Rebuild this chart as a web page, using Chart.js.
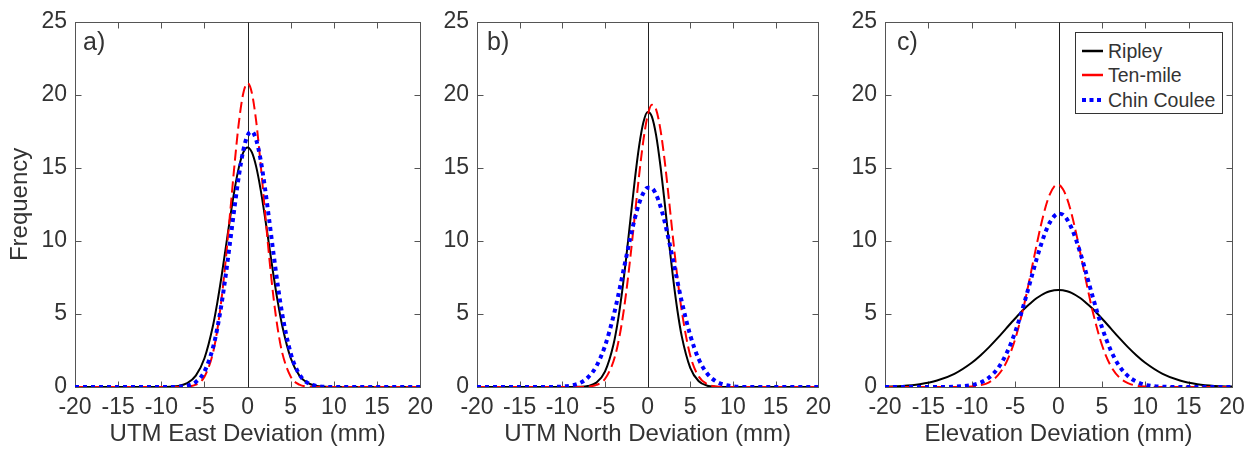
<!DOCTYPE html>
<html>
<head>
<meta charset="utf-8">
<script src="https://cdn.jsdelivr.net/npm/chart.js@4.4.1/dist/chart.umd.min.js"></script>
<style>
  body { margin: 0; background: #fff; overflow: hidden; }
  #wrap { position: relative; width: 1255px; height: 450px; font-family: 'Liberation Sans', Arial, sans-serif; color: #333; }
  canvas { position: absolute; top: 0; }
  .tag { position: absolute; font-size: 25px; line-height: 25px; }
  #legend { position: absolute; left: 1075px; top: 32px; width: 146px; height: 80px; border: 1.5px solid #333; background: #fff; }
  #legend .row { position: absolute; left: 0; height: 24px; width: 146px; font-size: 19.5px; line-height: 24px; }
  #legend svg { position: absolute; left: 5px; top: 0; }
  #legend span { position: absolute; left: 32px; top: 0; }
</style>
</head>
<body>
<div id="wrap">
  <canvas id="east" width="440" height="450" style="left:0px"></canvas>
  <canvas id="north" width="400" height="450" style="left:438px"></canvas>
  <canvas id="elev" width="410" height="450" style="left:845px"></canvas>
  <div class="tag" style="left:83px; top:29px">a)</div>
  <div class="tag" style="left:487px; top:29px">b)</div>
  <div class="tag" style="left:897px; top:29px">c)</div>
  <div id="legend">
    <div class="row" style="top:6px">
      <svg width="24" height="24"><line x1="1" y1="12" x2="22" y2="12" stroke="#000" stroke-width="2.5"/></svg>
      <span>Ripley</span>
    </div>
    <div class="row" style="top:30px">
      <svg width="24" height="24"><line x1="1" y1="12" x2="22" y2="12" stroke="#ff0000" stroke-width="2.5"/></svg>
      <span>Ten-mile</span>
    </div>
    <div class="row" style="top:55px">
      <svg width="24" height="24"><line x1="1" y1="12" x2="22" y2="12" stroke="#0000ff" stroke-width="4" stroke-dasharray="4,3.5"/></svg>
      <span>Chin Coulee</span>
    </div>
  </div>
</div>
<script>
const deviation = [-20,-18,-16,-14,-12,-10,-9,-8,-7,-6,-5,-4,-3.5,-3,-2.5,-2,-1.5,-1,-0.5,0,0.5,1,1.5,2,2.5,3,3.5,4,5,6,7,8,9,10,12,14,16,18,20];

// a) UTM East
const eastRipley  = [0,0,0,0,0,0,0.02,0.07,0.26,0.78,1.97,4.23,5.81,7.65,9.66,11.69,13.55,15.07,16.06,16.4,16.06,15.07,13.55,11.69,9.66,7.65,5.81,4.23,1.97,0.78,0.26,0.07,0.02,0,0,0,0,0,0];
const eastTenMile = [0,0,0,0,0,0,0,0,0.03,0.16,0.70,2.37,3.95,6.13,8.91,12.09,15.33,18.16,20.11,20.8,20.11,18.16,15.33,12.09,8.91,6.13,3.95,2.37,0.70,0.16,0.03,0,0,0,0,0,0,0,0];
const eastChin    = [0,0,0,0,0,0,0,0.02,0.09,0.34,1.06,2.72,4.05,5.76,7.80,10.06,12.37,14.49,16.19,17.23,17.48,16.90,15.58,13.68,11.45,9.14,6.95,5.03,2.29,0.86,0.27,0.07,0.01,0,0,0,0,0,0];

// b) UTM North
const northRipley  = [0,0,0,0,0,0,0,0.01,0.07,0.30,1.05,2.91,4.46,6.48,8.89,11.54,14.18,16.47,18.10,18.82,18.51,17.22,15.15,12.62,9.93,7.40,5.22,3.48,1.31,0.39,0.09,0.02,0,0,0,0,0,0,0];
const northTenMile = [0,0,0,0,0,0,0,0,0.03,0.14,0.55,1.76,2.88,4.45,6.51,8.99,11.73,14.47,16.86,18.57,19.32,18.99,17.64,15.49,12.84,10.07,7.45,5.21,2.15,0.71,0.19,0.04,0.01,0,0,0,0,0,0];
const northChin    = [0,0,0,0,0,0.03,0.10,0.26,0.65,1.43,2.80,4.86,6.12,7.50,8.91,10.29,11.54,12.56,13.28,13.64,13.60,13.17,12.38,11.31,10.02,8.63,7.22,5.86,3.54,1.90,0.91,0.39,0.15,0.05,0,0,0,0,0];

// c) Elevation
const elevRipley  = [0.03,0.07,0.19,0.44,0.90,1.66,2.16,2.73,3.36,4.03,4.69,5.32,5.60,5.86,6.09,6.28,6.44,6.55,6.62,6.64,6.62,6.55,6.44,6.28,6.09,5.86,5.60,5.32,4.69,4.03,3.36,2.73,2.16,1.66,0.90,0.44,0.19,0.07,0.03];
const elevTenMile = [0,0,0,0,0,0.04,0.12,0.32,0.79,1.70,3.26,5.54,6.90,8.35,9.79,11.14,12.31,13.19,13.72,13.84,13.55,12.88,11.87,10.62,9.22,7.76,6.34,5.03,2.89,1.47,0.66,0.27,0.09,0.03,0,0,0,0,0];
const elevChin    = [0,0,0,0,0.02,0.13,0.30,0.65,1.27,2.29,3.75,5.64,6.69,7.76,8.81,9.77,10.61,11.26,11.69,11.87,11.80,11.46,10.89,10.12,9.20,8.19,7.12,6.06,4.10,2.54,1.44,0.75,0.36,0.15,0.02,0,0,0,0];

const xTicks = [-20,-15,-10,-5,0,5,10,15,20];
const yTicks = [0,5,10,15,20,25];

Chart.defaults.font.family = "'Liberation Sans', Arial, sans-serif";
Chart.defaults.color = '#333';

// box round the plot, ticks pointing inwards, line at zero
const framePlugin = {
  id: 'frame',
  beforeDatasetsDraw(chart) {
    const ctx = chart.ctx;
    const a = chart.chartArea;
    const x = chart.scales.x, y = chart.scales.y;
    const L = Math.round(a.left) + 0.5, R = Math.round(a.right) + 0.5;
    const T = Math.round(a.top) + 0.5, B = Math.round(a.bottom) + 0.5;
    ctx.save();
    ctx.strokeStyle = '#555';
    ctx.lineWidth = 1;
    ctx.strokeRect(L, T, R - L, B - T);
    ctx.beginPath();
    xTicks.forEach(v => {
      const px = Math.round(x.getPixelForValue(v)) + 0.5;
      ctx.moveTo(px, B); ctx.lineTo(px, B - 6);
      ctx.moveTo(px, T); ctx.lineTo(px, T + 6);
    });
    yTicks.forEach(v => {
      const py = Math.round(y.getPixelForValue(v)) + 0.5;
      ctx.moveTo(L, py); ctx.lineTo(L + 6, py);
      ctx.moveTo(R, py); ctx.lineTo(R - 6, py);
    });
    ctx.stroke();
    const zx = Math.round(x.getPixelForValue(0)) + 0.5;
    ctx.strokeStyle = '#222';
    ctx.beginPath();
    ctx.moveTo(zx, T); ctx.lineTo(zx, B);
    ctx.stroke();
    ctx.restore();
  }
};

function points(values) {
  return deviation.map((d, i) => ({ x: d, y: values[i] }));
}

function makePanel(id, ripley, tenMile, chin, xTitle, showYTitle, yWidth, padRight) {
  new Chart(document.getElementById(id), {
    type: 'line',
    data: {
      datasets: [
        { label: 'Ripley', data: points(ripley), borderColor: '#000000', borderWidth: 2, order: 3 },
        { label: 'Ten-mile', data: points(tenMile), borderColor: '#ff0000', borderWidth: 2, borderDash: [11, 5], order: 2 },
        { label: 'Chin Coulee', data: points(chin), borderColor: '#0000ff', borderWidth: 4, borderDash: [4, 4], order: 1 }
      ]
    },
    options: {
      responsive: false,
      animation: false,
      elements: {
        point: { radius: 0 },
        line: { cubicInterpolationMode: 'monotone', fill: false }
      },
      layout: { autoPadding: false, padding: { left: 0, top: 20, right: padRight, bottom: 0 } },
      plugins: { legend: { display: false }, tooltip: { enabled: false } },
      scales: {
        x: {
          type: 'linear', min: -20, max: 20,
          afterBuildTicks: s => { s.ticks = xTicks.map(v => ({ value: v })); },
          ticks: { font: { size: 23 }, padding: 7, maxRotation: 0 },
          grid: { display: false, drawTicks: false },
          border: { display: false },
          title: { display: true, text: xTitle, font: { size: 24 }, padding: { top: 0, bottom: 1 } },
          afterFit: s => { s.height = 63; }
        },
        y: {
          type: 'linear', min: 0, max: 25,
          afterBuildTicks: s => { s.ticks = yTicks.map(v => ({ value: v })); },
          ticks: { font: { size: 23 }, padding: 8 },
          grid: { display: false, drawTicks: false },
          border: { display: false },
          title: { display: showYTitle, text: 'Frequency', font: { size: 24 }, padding: { top: 6, bottom: 0 } },
          afterFit: s => { s.width = yWidth; }
        }
      }
    },
    plugins: [framePlugin]
  });
}

makePanel('east', eastRipley, eastTenMile, eastChin, 'UTM East Deviation (mm)', true, 75, 19);
makePanel('north', northRipley, northTenMile, northChin, 'UTM North Deviation (mm)', false, 39, 14);
makePanel('elev', elevRipley, elevTenMile, elevChin, 'Elevation Deviation (mm)', false, 40, 23);
</script>
</body>
</html>
